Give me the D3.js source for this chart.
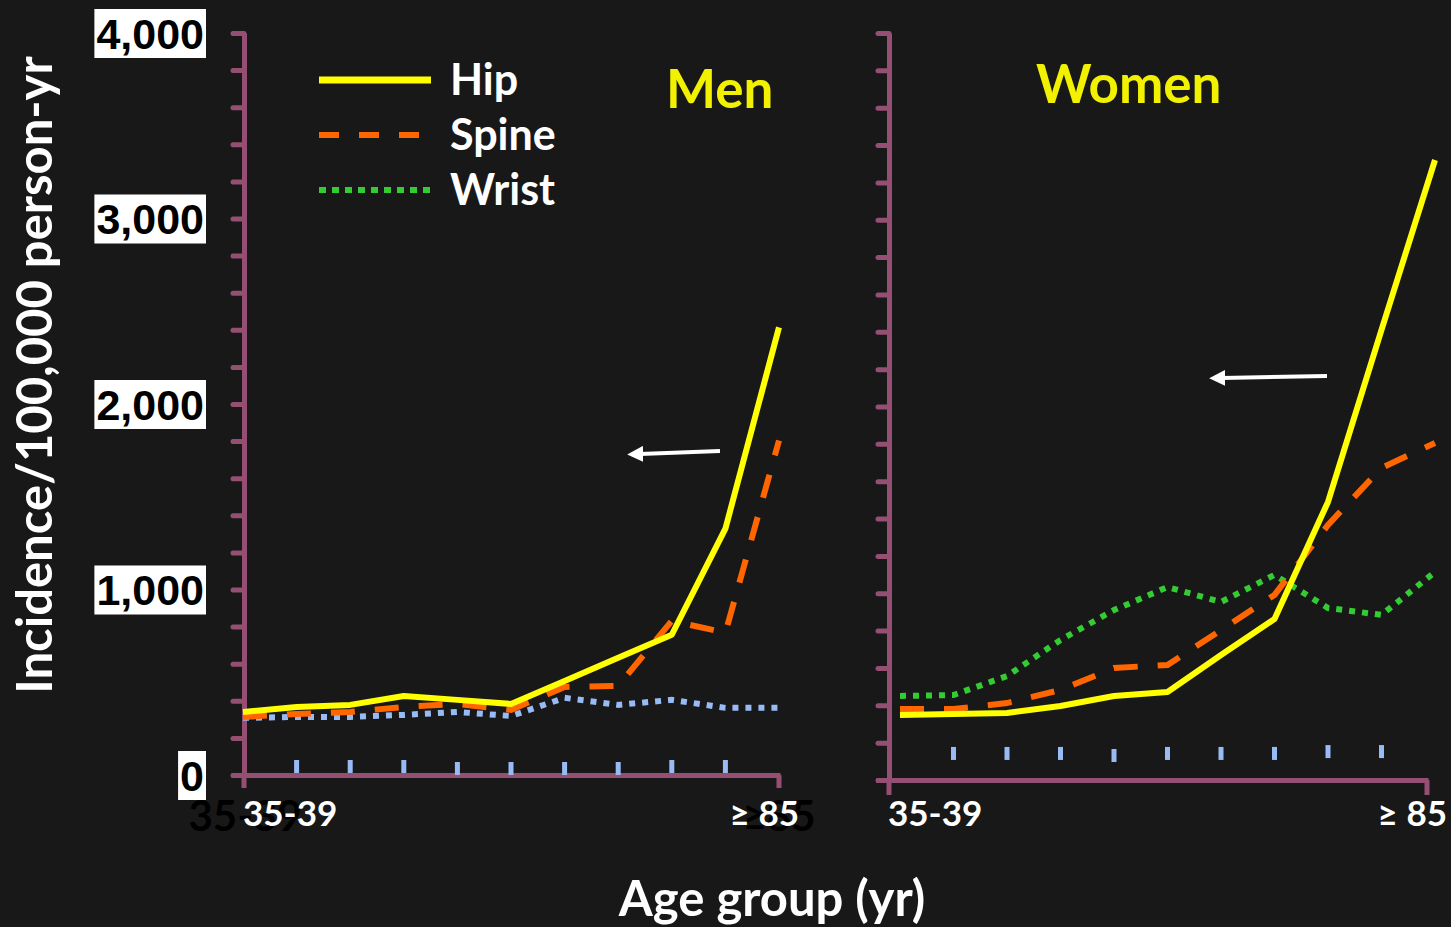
<!DOCTYPE html>
<html>
<head>
<meta charset="utf-8">
<script src="https://cdn.jsdelivr.net/npm/d3@7/dist/d3.min.js"></script>
<style>
  html, body { margin: 0; padding: 0; background: #181818; }
  svg { display: block; }
</style>
</head>
<body>
<svg id="chart" width="1451" height="927"></svg>
<script>
// ---------- DATA ----------
const categories = ["35-39","40-44","45-49","50-54","55-59","60-64","65-69","70-74","75-79","80-84","≥85"];
const yTickValues = [0, 1000, 2000, 3000, 4000];
const yTickLabels = ["0", "1,000", "2,000", "3,000", "4,000"];
const seriesNames = ["Hip", "Spine", "Wrist"];

const menHip    = [340, 367, 378, 426, 405, 383, 507, 632, 756, 1328, 2413];
const menSpine  = [313, 329, 340, 367, 383, 351, 475, 480, 831, 767, 1803];
const menWrist  = [308, 313, 313, 324, 340, 318, 416, 378, 405, 362, 362];

const womenHip   = [348, 353, 359, 396, 450, 471, 669, 862, 1489, 2410, 3320];
const womenSpine = [380, 380, 412, 482, 600, 616, 803, 991, 1366, 1671, 1805];
const womenWrist = [450, 455, 557, 750, 910, 1033, 953, 1098, 921, 884, 1114];

// small blue marks at inner categories (40-44 .. 80-84), value at mark top
const markCategories = categories.slice(1, 10);
const menMarks   = [81, 81, 81, 70, 70, 70, 70, 81, 81];
const womenMarks = [177, 177, 177, 166, 177, 177, 177, 187, 187];

// ---------- STYLE ----------
const BG = "#181818";
const AXIS = "#944f72";
const HIP = "#ffff00";
const SPINE = "#ff6600";
const WRIST = "#33cc33";
const WRIST_MEN = "#99bbf5";
const MARK = "#99bbf5";
const TITLE = "#f2f200";
const LATO = "Lato, 'Open Sans', sans-serif";

const svg = d3.select("#chart");
svg.append("rect").attr("width", 1451).attr("height", 927).attr("fill", BG);

const defs = svg.append("defs");
defs.append("marker").attr("id", "arrow")
  .attr("viewBox", "0 0 10 10").attr("refX", 2).attr("refY", 5)
  .attr("markerWidth", 4).attr("markerHeight", 4).attr("orient", "auto")
  .append("path").attr("d", "M0,0 L10,5 L0,10 z").attr("fill", "#ffffff");

// ---------- PANELS ----------
const panels = [
  { name: "Men", hip: menHip, spine: menSpine, wrist: menWrist, wristColor: WRIST_MEN, marks: menMarks,
    xRange: [243, 779], yRange: [775, 33], axisX: 244, axisLeft: 231, axisRight: 780, drop: 13,
    labels: true, titleX: 666, titleY: 108,
    arrow: [[720, 451], [640, 454]] },
  { name: "Women", hip: womenHip, spine: womenSpine, wrist: womenWrist, wristColor: WRIST, marks: womenMarks,
    xRange: [900, 1435], yRange: [780, 33], axisX: 889, axisLeft: 876, axisRight: 1428, drop: 15,
    labels: false, titleX: 1036, titleY: 103,
    arrow: [[1327, 376], [1222, 378]] }
];

panels.forEach(p => {
  const x = d3.scalePoint().domain(categories).range(p.xRange);
  const y = d3.scaleLinear().domain([0, 4000]).range(p.yRange);
  const g = svg.append("g");

  // y axis with minor ticks every 200
  const yAxis = d3.axisLeft(y).tickValues(d3.range(0, 4001, 200))
    .tickSize(11).tickSizeOuter(0).tickFormat("");
  const ya = g.append("g").attr("transform", `translate(${p.axisX},0)`).call(yAxis);
  ya.select(".domain").attr("stroke", AXIS).attr("stroke-width", 5);
  ya.selectAll(".tick line").attr("stroke", AXIS).attr("stroke-width", 5).attr("stroke-linecap", "round");
  // extension of the y-axis below baseline
  g.append("line").attr("x1", p.axisX).attr("x2", p.axisX)
    .attr("y1", y(0)).attr("y2", y(0) + p.drop)
    .attr("stroke", AXIS).attr("stroke-width", 5);

  // x axis frame
  const xFrame = d3.scaleLinear().domain([0, 1]).range([p.axisLeft, p.axisRight]);
  const xAxis = d3.axisBottom(xFrame).tickValues([]).tickSizeOuter(0);
  const xa = g.append("g").attr("transform", `translate(0,${y(0)})`).call(xAxis);
  xa.select(".domain").attr("stroke", AXIS).attr("stroke-width", 5);
  g.append("line").attr("x1", p.axisRight - 1).attr("x2", p.axisRight - 1)
    .attr("y1", y(0)).attr("y2", y(0) + p.drop)
    .attr("stroke", AXIS).attr("stroke-width", 5);

  // blue marks
  g.selectAll(".mark").data(p.marks).join("line")
    .attr("x1", (d, i) => x(markCategories[i])).attr("x2", (d, i) => x(markCategories[i]))
    .attr("y1", d => y(d)).attr("y2", d => y(d) + 13)
    .attr("stroke", MARK).attr("stroke-width", 5);

  const line = d3.line().x((d, i) => x(categories[i])).y(d => y(d));

  g.append("path").datum(p.wrist).attr("d", line).attr("fill", "none")
    .attr("stroke", p.wristColor).attr("stroke-width", 6).attr("stroke-dasharray", "6,7");
  g.append("path").datum(p.spine).attr("d", line).attr("fill", "none")
    .attr("stroke", SPINE).attr("stroke-width", 6).attr("stroke-dasharray", "24,20");
  g.append("path").datum(p.hip).attr("d", line).attr("fill", "none")
    .attr("stroke", HIP).attr("stroke-width", 6).attr("stroke-linejoin", "round");

  // title
  g.append("text").attr("x", p.titleX).attr("y", p.titleY)
    .attr("font-family", LATO).attr("font-weight", 700).attr("font-size", 53)
    .attr("fill", TITLE).text(p.name);

  // arrow
  g.append("line").attr("x1", p.arrow[0][0]).attr("y1", p.arrow[0][1])
    .attr("x2", p.arrow[1][0]).attr("y2", p.arrow[1][1])
    .attr("stroke", "#ffffff").attr("stroke-width", 4).attr("marker-end", "url(#arrow)");

  // x labels
  if (p.labels) {
    // ghost labels behind
    g.append("text").attr("x", x(categories[0]) + 2).attr("y", 831).attr("text-anchor", "middle")
      .attr("font-family", LATO).attr("font-weight", 700).attr("font-size", 42)
      .attr("fill", "#000000").text(categories[0]);
    g.append("text").attr("x", x(categories[10]) + 0).attr("y", 831).attr("text-anchor", "middle")
      .attr("font-family", LATO).attr("font-weight", 700).attr("font-size", 42)
      .attr("fill", "#000000").text(categories[10]);
  }
  g.append("text").attr("x", p.axisX - 1).attr("y", 826)
    .attr("font-family", LATO).attr("font-weight", 700).attr("font-size", 35)
    .attr("fill", "#ffffff").text(categories[0]);
  g.append("text").attr("x", p.axisRight + 19).attr("y", 826).attr("text-anchor", "end")
    .attr("font-family", LATO).attr("font-weight", 700).attr("font-size", 35)
    .attr("fill", "#ffffff").text("≥ 85");

  // y tick labels (men panel only)
  if (p.labels) {
    yTickValues.forEach((v, i) => {
      const t = g.append("text").attr("x", 204).attr("y", y(v)).attr("dy", "0.37em")
        .attr("text-anchor", "end")
        .attr("font-family", "'Liberation Sans', Arial, sans-serif").attr("font-weight", 700)
        .attr("font-size", 43).attr("fill", "#000000").text(yTickLabels[i]);
      const b = t.node().getBBox();
      g.insert("rect", () => t.node())
        .attr("x", b.x - 2).attr("y", y(v) - 24).attr("width", b.width + 4).attr("height", 49)
        .attr("fill", "#ffffff");
    });
  }
});

// ---------- LEGEND ----------
const legendColors = [HIP, SPINE, WRIST];
const legendDash = [null, "20,20", "7,6"];
const legendY = [80, 135, 190];
const lg = svg.append("g");
seriesNames.forEach((s, i) => {
  lg.append("line").attr("x1", 319).attr("x2", 431).attr("y1", legendY[i]).attr("y2", legendY[i])
    .attr("stroke", legendColors[i]).attr("stroke-width", i === 0 ? 7 : 6)
    .attr("stroke-dasharray", legendDash[i]);
  lg.append("text").attr("x", 450).attr("y", legendY[i] + 15)
    .attr("font-family", LATO).attr("font-weight", 700).attr("font-size", 43)
    .attr("fill", "#ffffff").text(s);
});

// ---------- AXIS TITLES ----------
svg.append("text").attr("transform", "translate(52,375) rotate(-90)")
  .attr("text-anchor", "middle").attr("font-family", LATO).attr("font-weight", 700)
  .attr("font-size", 49).attr("fill", "#ffffff").text("Incidence/100,000 person-yr");
svg.append("text").attr("x", 772).attr("y", 916)
  .attr("text-anchor", "middle").attr("font-family", LATO).attr("font-weight", 700)
  .attr("font-size", 49).attr("fill", "#ffffff").text("Age group (yr)");
</script>
</body>
</html>
